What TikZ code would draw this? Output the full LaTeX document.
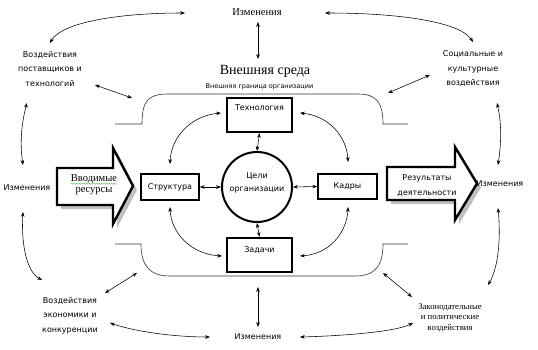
\documentclass[tikz,border=0pt]{standalone}
\usepackage{fontspec}
\setmainfont{Liberation Serif}
\setsansfont{DejaVu Sans}
\usetikzlibrary{arrows.meta,decorations.pathmorphing}
\begin{document}
\begin{tikzpicture}[x=1pt,y=-1pt,
  conn/.style={{Stealth[length=4.8pt,width=3.6pt]}-{Stealth[length=4.8pt,width=3.6pt]}, line width=0.55pt},
  sanslab/.style={font=\sffamily\fontsize{8}{14.5}\selectfont, align=center, inner sep=0pt},
  seriflab/.style={font=\rmfamily\fontsize{10.5}{12}\selectfont, align=center, inner sep=0pt},
  heavybox/.style={draw, line width=2.2pt, font=\sffamily\fontsize{8}{10}\selectfont, inner sep=3pt},
  lightbox/.style={draw, line width=1.6pt, font=\sffamily\fontsize{8}{10}\selectfont, inner sep=3pt, text height=6pt, text depth=2pt},
  bnd/.style={draw=black!80, line width=0.6pt},
  bigarrow/.style={draw, fill=white, line width=2.4pt, line join=miter},
  shadowfill/.style={fill=black!25}
]
\useasboundingbox (0,0) rectangle (538,350);

% boundary of the organisation
\draw[bnd] (115,124) -- (142,124) .. controls (142,101) and (148,94) .. (168,94) -- (358,94) .. controls (376,94) and (383,102) .. (383,124) -- (408,124);
\draw[bnd] (115,244) -- (141,244) .. controls (141,266) and (150,276) .. (170,276) -- (355,276) .. controls (375,276) and (383,266) .. (383,244) -- (408,244);

% big arrows
\fill[shadowfill, shift={(4,4)}] (57,168) -- (113,168) -- (113,148) -- (133,186) -- (113,224) -- (113,205) -- (57,205) -- cycle;
\path[bigarrow] (57,168) -- (113,168) -- (113,148) -- (133,186) -- (113,224) -- (113,205) -- (57,205) -- cycle;
\fill[shadowfill, shift={(4,4)}] (387,167) -- (455,167) -- (455,147) -- (477,183.5) -- (455,220) -- (455,200) -- (387,200) -- cycle;
\path[bigarrow] (387,167) -- (455,167) -- (455,147) -- (477,183.5) -- (455,220) -- (455,200) -- (387,200) -- cycle;

\node[seriflab, font=\rmfamily\fontsize{10.5}{11.5}\selectfont] (vvod) at (94,184.5) {Вводимые\\ресурсы};
\draw[green!60!black!70, line width=0.35pt, decorate, decoration={snake, amplitude=0.6pt, segment length=2.5pt}] (71,183.8) -- (117,183.8);
\node[sanslab, font=\sffamily\fontsize{8}{15}\selectfont] (rez) at (427,185.5) {Результаты\\деятельности};

% inner nodes
\node[heavybox, minimum width=65pt, minimum height=34pt, text height=6pt, text depth=14pt] (tech) at (259.5,115) {Технология};
\node[heavybox, minimum width=65pt, minimum height=34pt, text height=6pt, text depth=11pt] (zad) at (259.5,255) {Задачи};
\node[lightbox, minimum width=58pt, minimum height=26pt] (str) at (170,187) {Структура};
\node[lightbox, minimum width=59pt, minimum height=25pt] (kad) at (347.5,186.5) {Кадры};
\node[circle, draw, line width=2pt, minimum size=70pt, inner sep=0pt] (goal) at (257,187) {};
\node[sanslab, font=\sffamily\fontsize{8}{13}\selectfont] (goaltext) at (257,183) {Цели\\организации};

% outer labels
\node[seriflab] (izmT) at (257,12.5) {Изменения};
\node[seriflab, font=\rmfamily\fontsize{14}{15}\selectfont] (sreda) at (265,71) {Внешняя среда};
\node[sanslab, font=\sffamily\fontsize{6.5}{8}\selectfont] (gran) at (259.5,87) {Внешняя граница организации};
\node[sanslab] (post) at (50,69) {Воздействия\\поставщиков и\\технологий};
\node[sanslab] (soc) at (473,69) {Социальные и\\культурные\\воздействия};
\node[sanslab] (izmL) at (27,188) {Изменения};
\node[sanslab] (izmR) at (500,184) {Изменения};
\node[sanslab] (izmB) at (258,337) {Изменения};
\node[sanslab] (econ) at (70,315.5) {Воздействия\\экономики и\\конкуренции};
\node[seriflab, font=\rmfamily\fontsize{8.7}{10.5}\selectfont] (zak) at (450,317.5) {Законодательные\\и политические\\воздействия};

% connector end points
\coordinate (pT1) at (185,13);   \coordinate (pP1) at (50,43);
\coordinate (pT2) at (325,13);   \coordinate (pS1) at (473,42);
\coordinate (pP2) at (95,85);    \coordinate (bP) at (132,98);
\coordinate (pS2) at (430,75);   \coordinate (bS) at (388,93);
\coordinate (pL1) at (27,103);   \coordinate (pL2) at (23,165);
\coordinate (pL3) at (23,212);   \coordinate (pE1) at (42,280);
\coordinate (pE2) at (105,293);  \coordinate (bE) at (137,273);
\coordinate (pE3) at (110,323);  \coordinate (pB1) at (210,337);
\coordinate (pB2) at (300,337);  \coordinate (pZ1) at (413,323);
\coordinate (pZ2) at (412,297);  \coordinate (bZ) at (383,273);
\coordinate (pR1) at (498,208);  \coordinate (pZ3) at (488,285);
\coordinate (pR2) at (498,165);  \coordinate (pS3) at (497,103);
\coordinate (pT3) at (258,22);   \coordinate (pSr) at (258,59);
\coordinate (pB3) at (258,327);  \coordinate (bB) at (258,287);
\coordinate (s1) at (170,164);   \coordinate (t1) at (221,113);
\coordinate (t2) at (300,113);   \coordinate (k1) at (348,162);
\coordinate (s2) at (170,207);   \coordinate (z1) at (222,256);
\coordinate (k2) at (348,207);   \coordinate (z2) at (300,256);

% outer connectors
\draw[conn] (pP1) .. controls (62,22) and (120,13) .. (pT1);
\draw[conn] (pT2) .. controls (400,13) and (460,22) .. (pS1);
\draw[conn] (pP2) -- (bP);
\draw[conn] (pS2) -- (bS);
\draw[conn] (pL1) .. controls (21,125) and (20,145) .. (pL2);
\draw[conn] (pL3) .. controls (21,245) and (27,272) .. (pE1);
\draw[conn] (pE2) -- (bE);
\draw[conn] (pE3) .. controls (140,333) and (180,337) .. (pB1);
\draw[conn] (pB2) .. controls (340,336) and (395,332) .. (pZ1);
\draw[conn] (pZ2) -- (bZ);
\draw[conn] (pR1) .. controls (501,240) and (498,268) .. (pZ3);
\draw[conn] (pS3) .. controls (502,125) and (501,145) .. (pR2);
\draw[conn] (pT3) -- (pSr);
\draw[conn] (bB) -- (pB3);

% inner connectors
\draw[conn] (tech.south) -- (goal.north);
\draw[conn] (goal.south) -- (zad.north);
\draw[conn] (str.east) -- (goal.west);
\draw[conn] (goal.east) -- (kad.west);
\draw[conn] (s1) .. controls (171,138) and (190,116) .. (t1);
\draw[conn] (t2) .. controls (330,116) and (347,138) .. (k1);
\draw[conn] (s2) .. controls (171,232) and (190,254) .. (z1);
\draw[conn] (z2) .. controls (330,254) and (347,232) .. (k2);
\end{tikzpicture}
\end{document}
